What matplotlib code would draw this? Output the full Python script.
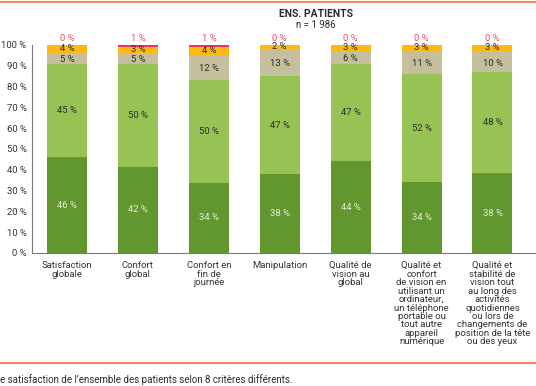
import matplotlib
matplotlib.use("Agg")
import matplotlib.pyplot as plt
import numpy as np
from matplotlib.lines import Line2D

categories = [
    "Satisfaction\nglobale",
    "Confort\nglobal",
    "Confort en\nfin de\njournée",
    "Manipulation",
    "Qualité de\nvision au\nglobal",
    "Qualité et\nconfort\nde vision en\nutilisant un\nordinateur,\nun téléphone\nportable ou\ntout autre\nappareil\nnumérique",
    "Qualité et\nstabilité de\nvision tout\nau long des\nactivités\nquotidiennes\nou lors de\nchangements de\nposition de la tête\nou des yeux",
]
tres_satisfait = [46, 42, 34, 38, 44, 34, 38]
satisfait = [45, 50, 50, 47, 47, 52, 48]
neutre = [5, 5, 12, 13, 6, 11, 10]
peu_satisfait = [4, 3, 4, 2, 3, 3, 3]
pas_satisfait = [0, 1, 1, 0, 0, 0, 0]
yticks = [0, 10, 20, 30, 40, 50, 60, 70, 80, 90, 100]

plt.rcParams['font.family'] = ['Roboto', 'DejaVu Sans']

fig = plt.figure(figsize=(5.36, 3.86), dpi=100)
ax = fig.add_axes([32/536, 1-253/386, 1-32/536, (253-45)/386])

x = np.arange(len(categories))
w = 40/70.9
all_series = [tres_satisfait, satisfait, neutre, peu_satisfait, pas_satisfait]
totals = np.sum(np.array(all_series, dtype=float), axis=0)
scale = 100.0 / totals

series = [
    (tres_satisfait, "#62962f", "#e6eed8", 0.0),
    (satisfait, "#97c254", "#2b2b2b", 0.0),
    (neutre, "#c6bf9e", "#2b2b2b", -0.6),
    (peu_satisfait, "#fcb813", "#2b2b2b", 0.5),
    (pas_satisfait, "#e8365a", None, 0.0),
]
bottom = np.zeros(len(categories))
for vals, col, tcol, dy in series:
    v = np.array(vals, dtype=float)
    hs = v * scale
    ax.bar(x, hs, w, bottom=bottom, color=col, edgecolor='none')
    if tcol is not None:
        for xi, b, h, lab in zip(x, bottom, hs, v):
            ax.text(xi, b + h/2 + dy, f"{int(lab)} %", ha='center', va='center',
                    fontsize=6.8, color=tcol)
    bottom += hs
for xi, h in zip(x, pas_satisfait):
    ax.text(xi, 101.0, f"{int(h)} %", ha='center', va='bottom',
            fontsize=6.8, color="#ee4a6a")

ax.set_xlim(-(67-32)/70.9, 6 + (536-492.5)/70.9)
ax.set_ylim(0, 100)
ax.set_yticks(yticks)
ax.set_yticklabels([f"{t} %" for t in yticks], fontsize=6.8, color="#333333")
ax.set_xticks(x)
ax.set_xticklabels(categories, fontsize=6.8, color="#333333", linespacing=0.92, va='top')
ax.tick_params(axis='x', length=0, pad=6)
ax.tick_params(axis='y', length=0, pad=4)
for s in ['top', 'right']:
    ax.spines[s].set_visible(False)
for s in ['left', 'bottom']:
    ax.spines[s].set_color("#7a7a7a")
    ax.spines[s].set_linewidth(0.8)

fig.text(316/536, 1-14/386, "ENS. PATIENTS", ha='center', va='center',
         fontsize=7.5, fontweight='bold', color="#2b2b2b")
fig.text(316/536, 1-25/386, "n = 1 986", ha='center', va='center',
         fontsize=7, color="#2b2b2b")

fig.add_artist(Line2D([0, 1], [1-1.5/386, 1-1.5/386], color="#f08a5a", lw=1.5))
fig.add_artist(Line2D([0, 1], [1-363/386, 1-363/386], color="#f07040", lw=1.2))
fig.text(0, 1-380/386, "e satisfaction de l’ensemble des patients selon 8 critères différents.",
         ha='left', va='center', fontsize=7, color="#2b2b2b")

fig.savefig("out.png", dpi=100)
